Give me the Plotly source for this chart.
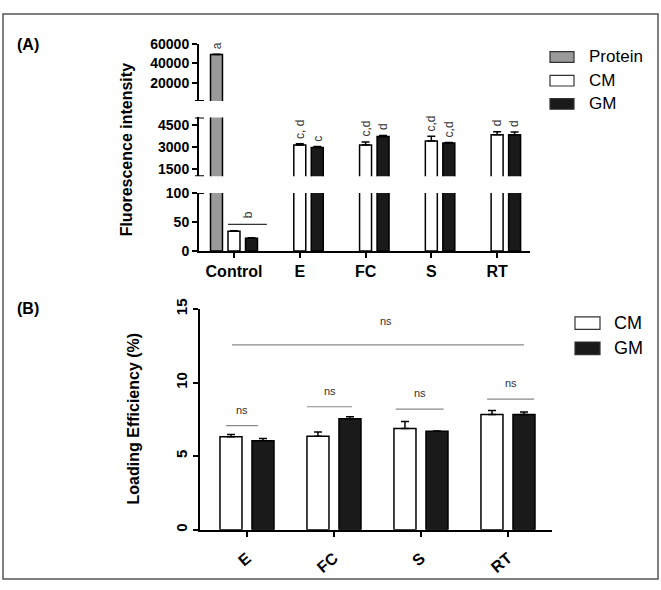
import plotly.graph_objects as go

W, H = 661, 590
FONT = "Liberation Sans"

# ---------------- Panel A data ----------------
cats_a = ["Control", "E", "FC", "S", "RT"]
protein_a = [49000, None, None, None, None]
protein_a_err = [300, 0, 0, 0, 0]
cm_a = [34, 3130, 3130, 3390, 3830]
cm_a_err = [1, 80, 200, 330, 200]
gm_a = [22, 2960, 3700, 3260, 3830]
gm_a_err = [1, 60, 80, 30, 180]
protein_letter = "a"
cm_a_letters = ["", "c, d", "c,d", "c,d", "d"]
gm_a_letters = ["", "c", "d", "c,d", "d"]
control_letter = "b"
control_bracket_y = 46

seg_bottom_ticks = [0, 50, 100]
seg_mid_ticks = [1500, 3000, 4500]
seg_top_ticks = [20000, 40000, 60000]
seg_bottom_range = [0, 100]
seg_mid_range = [1000, 5000]
seg_top_range = [1000, 60000]

# ---------------- Panel B data ----------------
cats_b = ["E", "FC", "S", "RT"]
cm_b = [6.32, 6.36, 6.89, 7.83]
cm_b_err = [0.15, 0.28, 0.46, 0.28]
gm_b = [6.05, 7.55, 6.69, 7.83]
gm_b_err = [0.15, 0.13, 0.03, 0.18]
ns_group_y = [7.08, 8.36, 8.2, 8.88]
ns_overall_y = 12.57
yb_ticks = [0, 5, 10, 15]

# ---------------- helpers ----------------
def px_x(p):
    return p / W

def px_y(p):
    return 1 - p / H

GRAY = "#9a9a9a"
BLACK = "#1a1a1a"
LW = 1.5

A_BW = 0.182
A_SLOT = 0.266
B_BW = 0.253
B_SLOT = 0.184

fig = go.Figure()

def add_a_traces(yax, include_protein=True, include_mod=True):
    if include_protein:
        fig.add_trace(go.Bar(
            x=cats_a, y=protein_a, xaxis="x", yaxis=yax,
            width=A_BW, offset=-A_SLOT - A_BW / 2,
            marker=dict(color=GRAY, line=dict(color="black", width=LW)),
            error_y=dict(type="data", array=protein_a_err, arrayminus=[0] * 5,
                         symmetric=False, color="black", thickness=1.5, width=4),
            showlegend=False, name="Protein"))
    if include_mod:
        fig.add_trace(go.Bar(
            x=cats_a, y=cm_a, xaxis="x", yaxis=yax,
            width=A_BW, offset=-A_BW / 2,
            marker=dict(color="white", line=dict(color="black", width=LW)),
            error_y=dict(type="data", array=cm_a_err, arrayminus=[0] * 5,
                         symmetric=False, color="black", thickness=1.5, width=4),
            showlegend=False, name="CM"))
        fig.add_trace(go.Bar(
            x=cats_a, y=gm_a, xaxis="x", yaxis=yax,
            width=A_BW, offset=A_SLOT - A_BW / 2,
            marker=dict(color=BLACK, line=dict(color="black", width=LW)),
            error_y=dict(type="data", array=gm_a_err, arrayminus=[0] * 5,
                         symmetric=False, color="black", thickness=1.5, width=4),
            showlegend=False, name="GM"))

add_a_traces("y", True, True)
add_a_traces("y2", True, True)
add_a_traces("y3", True, False)

fig.add_trace(go.Bar(
    x=cats_b, y=cm_b, xaxis="x2", yaxis="y4",
    width=B_BW, offset=-B_SLOT - B_BW / 2,
    marker=dict(color="white", line=dict(color="black", width=LW)),
    error_y=dict(type="data", array=cm_b_err, arrayminus=[0] * 4,
                 symmetric=False, color="black", thickness=1.5, width=4),
    showlegend=False, name="CM"))
fig.add_trace(go.Bar(
    x=cats_b, y=gm_b, xaxis="x2", yaxis="y4",
    width=B_BW, offset=B_SLOT - B_BW / 2,
    marker=dict(color=BLACK, line=dict(color="black", width=LW)),
    error_y=dict(type="data", array=gm_b_err, arrayminus=[0] * 4,
                 symmetric=False, color="black", thickness=1.5, width=4),
    showlegend=False, name="GM"))

tickfont = dict(family=FONT, size=14, color="black", weight="bold")
axis_common = dict(showline=True, linecolor="black", linewidth=2, ticks="outside",
                   ticklen=5, tickwidth=2, tickcolor="black", showgrid=False,
                   zeroline=False, fixedrange=True)

fig.update_layout(
    width=W, height=H, margin=dict(l=0, r=0, t=0, b=0),
    paper_bgcolor="white", plot_bgcolor="rgba(0,0,0,0)",
    barmode="overlay",
    xaxis=dict(domain=[px_x(199), px_x(530)], anchor="y", range=[-0.532, 4.50],
               type="category", tickfont=dict(family=FONT, size=16, color="black", weight="bold"),
               **axis_common),
    yaxis=dict(domain=[px_y(248), px_y(188)], anchor="x", range=seg_bottom_range,
               tickvals=seg_bottom_ticks, tickformat="d", tickfont=tickfont, **axis_common),
    yaxis2=dict(domain=[px_y(170.7), px_y(110)], anchor="x", range=seg_mid_range,
                tickvals=seg_mid_ticks, tickformat="d", tickfont=tickfont, **axis_common),
    yaxis3=dict(domain=[px_y(93), px_y(34)], anchor="x", range=seg_top_range,
                tickvals=seg_top_ticks, tickformat="d", tickfont=tickfont, **axis_common),
    xaxis2=dict(domain=[px_x(200), px_x(552)], anchor="y4", range=[-0.54, 3.506],
                type="category", tickangle=-40, ticklabelstandoff=6,
                tickfont=dict(family=FONT, size=16, color="black", weight="bold"),
                **axis_common),
    yaxis4=dict(domain=[px_y(536), px_y(308)], anchor="x2", range=[0, 15],
                tickvals=yb_ticks, tickangle=-90,
                tickfont=dict(family=FONT, size=15, color="black", weight="bold"),
                **axis_common),
)

shapes = []
anns = []

# outer frame
shapes.append(dict(type="rect", xref="paper", yref="paper", x0=px_x(3), x1=px_x(658),
                   y0=px_y(587), y1=px_y(3), line=dict(color="#555555", width=1.5)))

# axis break caps
for yref, yv in [("y", seg_bottom_range[1]), ("y2", seg_mid_range[0]), ("y2", seg_mid_range[1]),
                 ("y3", seg_top_range[0])]:
    shapes.append(dict(type="line", xref="paper", yref=yref, x0=px_x(195), x1=px_x(204),
                       y0=yv, y1=yv, line=dict(color="black", width=2)))

# letters panel A
letter_font = dict(family=FONT, size=12, color="#333333")
anns.append(dict(x=-A_SLOT, y=protein_a[0] + protein_a_err[0], xref="x", yref="y3",
                 text=protein_letter, textangle=-90, showarrow=False, xanchor="center",
                 yanchor="bottom", yshift=3, font=letter_font))
for i, c in enumerate(cats_a):
    if cm_a_letters[i]:
        anns.append(dict(x=i, y=cm_a[i] + cm_a_err[i], xref="x", yref="y2",
                         text=cm_a_letters[i], textangle=-90, showarrow=False,
                         xanchor="center", yanchor="bottom", yshift=3, font=letter_font))
    if gm_a_letters[i]:
        anns.append(dict(x=i + A_SLOT, y=gm_a[i] + gm_a_err[i], xref="x", yref="y2",
                         text=gm_a_letters[i], textangle=-90, showarrow=False,
                         xanchor="center", yanchor="bottom", yshift=3, font=letter_font))
# control bracket
shapes.append(dict(type="line", xref="x", yref="y", x0=-0.091, x1=0.50,
                   y0=control_bracket_y, y1=control_bracket_y, line=dict(color="#333333", width=1.2)))
anns.append(dict(x=0.205, y=control_bracket_y, xref="x", yref="y", text=control_letter,
                 textangle=-90, showarrow=False, xanchor="center", yanchor="bottom",
                 yshift=4, font=letter_font))

# ns brackets panel B
ns_spans = [(-0.241, 0.126), (0.69, 1.207), (1.71, 2.26), (2.76, 3.30)]
ns_font = dict(family=FONT, size=11, color="#333333")
for (x0, x1), yv in zip(ns_spans, ns_group_y):
    shapes.append(dict(type="line", xref="x2", yref="y4", x0=x0, x1=x1, y0=yv, y1=yv,
                       line=dict(color="#8a8a8a", width=1.2)))
    anns.append(dict(x=(x0 + x1) / 2, y=yv, xref="x2", yref="y4", text="ns",
                     showarrow=False, xanchor="center", yanchor="bottom", yshift=8,
                     font=ns_font))
shapes.append(dict(type="line", xref="x2", yref="y4", x0=-0.172, x1=3.184,
                   y0=ns_overall_y, y1=ns_overall_y, line=dict(color="#8a8a8a", width=1.2)))
anns.append(dict(x=1.6, y=ns_overall_y, xref="x2", yref="y4", text="ns",
                 showarrow=False, xanchor="center", yanchor="bottom", yshift=16, font=ns_font))

# axis titles and panel labels
title_font = dict(family=FONT, size=16, color="black", weight="bold")
anns.append(dict(x=px_x(126), y=px_y(144), xref="paper", yref="paper",
                 text="Fluorescence intensity", textangle=-90, showarrow=False,
                 xanchor="center", yanchor="middle", font=title_font))
anns.append(dict(x=px_x(133), y=px_y(421), xref="paper", yref="paper",
                 text="Loading Efficiency (%)", textangle=-90, showarrow=False,
                 xanchor="center", yanchor="middle", font=title_font))
anns.append(dict(x=px_x(15), y=px_y(35), xref="paper", yref="paper", text="(A)",
                 showarrow=False, xanchor="left", yanchor="middle", font=title_font))
anns.append(dict(x=px_x(15), y=px_y(307), xref="paper", yref="paper", text="(B)",
                 showarrow=False, xanchor="left", yanchor="middle", font=title_font))

# legends (manual boxes)
leg_font = dict(family=FONT, size=17, color="black")
legend_a = [("Protein", GRAY, 47.5), ("CM", "white", 72), ("GM", BLACK, 96)]
for name, col, yc in legend_a:
    shapes.append(dict(type="rect", xref="paper", yref="paper", x0=px_x(550), x1=px_x(574),
                       y0=px_y(yc + 5.5), y1=px_y(yc - 5.5), fillcolor=col,
                       line=dict(color="#333333", width=1.2)))
    anns.append(dict(x=px_x(587), y=px_y(yc), xref="paper", yref="paper", text=name,
                     showarrow=False, xanchor="left", yanchor="middle", font=leg_font))
legend_b = [("CM", "white", 322.5), ("GM", BLACK, 348.5)]
leg_font_b = dict(family=FONT, size=18, color="black")
for name, col, yc in legend_b:
    shapes.append(dict(type="rect", xref="paper", yref="paper", x0=px_x(575), x1=px_x(600),
                       y0=px_y(yc + 6.5), y1=px_y(yc - 6.5), fillcolor=col,
                       line=dict(color="#333333", width=1.2)))
    anns.append(dict(x=px_x(612), y=px_y(yc), xref="paper", yref="paper", text=name,
                     showarrow=False, xanchor="left", yanchor="middle", font=leg_font_b))

fig.update_layout(shapes=shapes, annotations=anns)
fig.write_html("out.html", config={"displayModeBar": False})
